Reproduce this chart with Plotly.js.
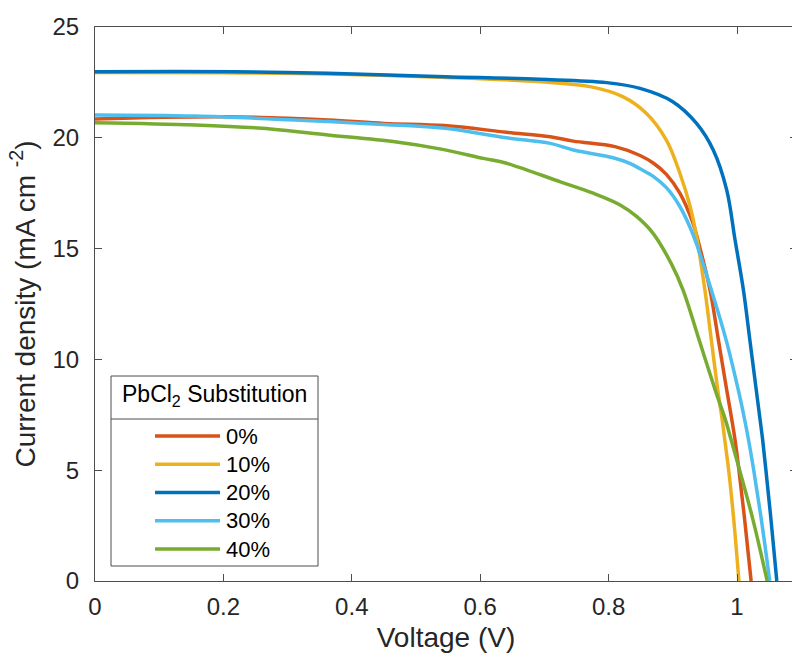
<!DOCTYPE html>
<html>
<head>
<meta charset="utf-8">
<script src="https://cdn.plot.ly/plotly-3.0.1.min.js"></script>
<style>
  html, body { margin: 0; padding: 0; overflow: hidden; background: #fff; }
  #chart { width: 800px; height: 654px; }
</style>
</head>
<body>
<div id="chart"></div>
<script>
// ---- Data ----
const seriesNames = ["0%", "10%", "20%", "30%", "40%"];
const seriesColors = ["#D95319", "#EDB120", "#0072BD", "#4DBEEE", "#77AC30"];
const legendTitle = "PbCl<sub>2</sub> Substitution";

const v0 = [0, 0.2, 0.363, 0.45, 0.545, 0.641, 0.709, 0.745, 0.81, 0.849, 0.870, 0.890, 0.911, 0.932, 0.939, 0.958, 0.971, 0.984, 0.992, 0.997, 1.003, 1.012, 1.022];
const j0 = [20.85, 20.95, 20.8, 20.65, 20.55, 20.25, 20.05, 19.85, 19.6, 19.2, 18.85, 18.35, 17.5, 16.1, 15.39, 13.13, 10.88, 8.62, 7.27, 6.36, 5.01, 2.75, 0];

const v10 = [0, 0.2, 0.363, 0.537, 0.693, 0.771, 0.822, 0.859, 0.890, 0.911, 0.927, 0.937, 0.950, 0.960, 0.970, 0.977, 0.981, 0.987, 0.995, 1.003];
const j10 = [22.95, 22.93, 22.88, 22.73, 22.53, 22.31, 21.86, 21.1, 19.9, 18.4, 16.9, 15.54, 13.13, 10.88, 8.62, 7.27, 6.36, 5.01, 2.75, 0];

const v20 = [0, 0.218, 0.363, 0.545, 0.693, 0.797, 0.849, 0.900, 0.937, 0.963, 0.984, 0.997, 1.010, 1.020, 1.030, 1.036, 1.040, 1.045, 1.053, 1.062];
const j20 = [22.98, 22.98, 22.91, 22.76, 22.64, 22.49, 22.23, 21.63, 20.65, 19.45, 17.64, 15.39, 13.13, 10.88, 8.62, 7.27, 6.36, 5.01, 2.75, 0];

const v30 = [0, 0.156, 0.363, 0.45, 0.545, 0.641, 0.709, 0.745, 0.807, 0.833, 0.849, 0.870, 0.890, 0.911, 0.932, 0.960, 0.983, 1.002, 1.012, 1.018, 1.026, 1.038, 1.051];
const j30 = [21.03, 20.98, 20.73, 20.6, 20.43, 20.0, 19.75, 19.45, 19.1, 18.85, 18.6, 18.25, 17.75, 16.9, 15.6, 13.13, 10.88, 8.62, 7.27, 6.36, 5.01, 2.75, 0];

const v40 = [0, 0.156, 0.260, 0.363, 0.467, 0.537, 0.605, 0.641, 0.726, 0.776, 0.818, 0.844, 0.869, 0.898, 0.916, 0.941, 0.966, 0.982, 0.991, 1.004, 1.025, 1.047];
const j40 = [20.68, 20.58, 20.43, 20.13, 19.82, 19.5, 19.07, 18.85, 18.0, 17.5, 16.97, 16.44, 15.7, 14.3, 13.13, 10.88, 8.62, 7.27, 6.36, 5.01, 2.75, 0];

const xTickVals = [0, 0.2, 0.4, 0.6, 0.8, 1];
const xTickText = ["0", "0.2", "0.4", "0.6", "0.8", "1"];
const yTickVals = [0, 5, 10, 15, 20, 25];
const yTickText = ["0", "5", "10", "15", "20", "25"];

const voltages = [v0, v10, v20, v30, v40];
const currents = [j0, j10, j20, j30, j40];

// ---- Layout geometry ----
const W = 800, H = 654;
const M = { l: 95, r: 3, t: 27, b: 73 };
const plotW = W - M.l - M.r, plotH = H - M.t - M.b;
const px2x = px => (px - M.l) / plotW;
const py2y = py => (H - M.b - py) / plotH;

const FONT = "Liberation Sans, Arial, Helvetica, sans-serif";
const TXT = "#262626";
const AX = "#4d4d4d";

const traces = voltages.map((v, i) => ({
  type: "scatter",
  mode: "lines",
  x: v,
  y: currents[i],
  name: seriesNames[i],
  line: { color: seriesColors[i], width: 3.5, shape: "spline", smoothing: 1.0 },
  showlegend: false,
  hoverinfo: "skip"
}));

// ---- Manual MATLAB-style legend box ----
const lg = { left: 111, right: 318, top: 376, bottom: 566, sep: 419,
             lineX0: 155, lineX1: 220, textX: 224, rowY0: 436, rowDy: 28.25, titleY: 396 };
const shapes = [
  { type: "rect", xref: "paper", yref: "paper",
    x0: px2x(lg.left), x1: px2x(lg.right), y0: py2y(lg.bottom), y1: py2y(lg.top),
    line: { color: AX, width: 1 }, fillcolor: "#ffffff", layer: "above" },
  { type: "line", xref: "paper", yref: "paper",
    x0: px2x(lg.left), x1: px2x(lg.right), y0: py2y(lg.sep), y1: py2y(lg.sep),
    line: { color: AX, width: 1 }, layer: "above" }
];
const annotations = [
  { xref: "paper", yref: "paper", x: px2x((lg.left + lg.right) / 2), y: py2y(lg.titleY),
    xanchor: "center", yanchor: "middle", showarrow: false, text: legendTitle,
    font: { family: FONT, size: 23, color: "#000" } }
];
seriesNames.forEach((name, i) => {
  const yy = lg.rowY0 + i * lg.rowDy;
  shapes.push({ type: "line", xref: "paper", yref: "paper",
    x0: px2x(lg.lineX0), x1: px2x(lg.lineX1), y0: py2y(yy), y1: py2y(yy),
    line: { color: seriesColors[i], width: 3.5 }, layer: "above" });
  annotations.push({ xref: "paper", yref: "paper", x: px2x(lg.textX), y: py2y(yy),
    xanchor: "left", yanchor: "middle", showarrow: false, text: name,
    font: { family: FONT, size: 22, color: "#000" } });
});

const layout = {
  width: W, height: H,
  margin: M,
  paper_bgcolor: "#ffffff", plot_bgcolor: "#ffffff",
  font: { family: FONT, color: TXT },
  showlegend: false,
  xaxis: {
    range: [0, plotW / 642],
    tickvals: xTickVals, ticktext: xTickText,
    ticks: "inside", ticklen: 7, tickwidth: 1, tickcolor: AX,
    showline: true, linecolor: AX, linewidth: 1, mirror: "ticks",
    showgrid: false, zeroline: false,
    tickfont: { family: FONT, size: 24, color: TXT },
    ticklabelstandoff: 4,
    title: { text: "Voltage (V)", font: { family: FONT, size: 28, color: TXT }, standoff: 8 }
  },
  yaxis: {
    range: [0, 25],
    tickvals: yTickVals, ticktext: yTickText,
    ticks: "inside", ticklen: 7, tickwidth: 1, tickcolor: AX,
    showline: true, linecolor: AX, linewidth: 1, mirror: "ticks",
    showgrid: false, zeroline: false,
    tickfont: { family: FONT, size: 24, color: TXT },
    ticklabelstandoff: 10,
    title: { text: "Current density (mA cm <sup>-2</sup>)", font: { family: FONT, size: 28, color: TXT }, standoff: 8 }
  },
  shapes: shapes,
  annotations: annotations
};

Plotly.newPlot("chart", traces, layout, { staticPlot: true, displayModeBar: false });
</script>
</body>
</html>
